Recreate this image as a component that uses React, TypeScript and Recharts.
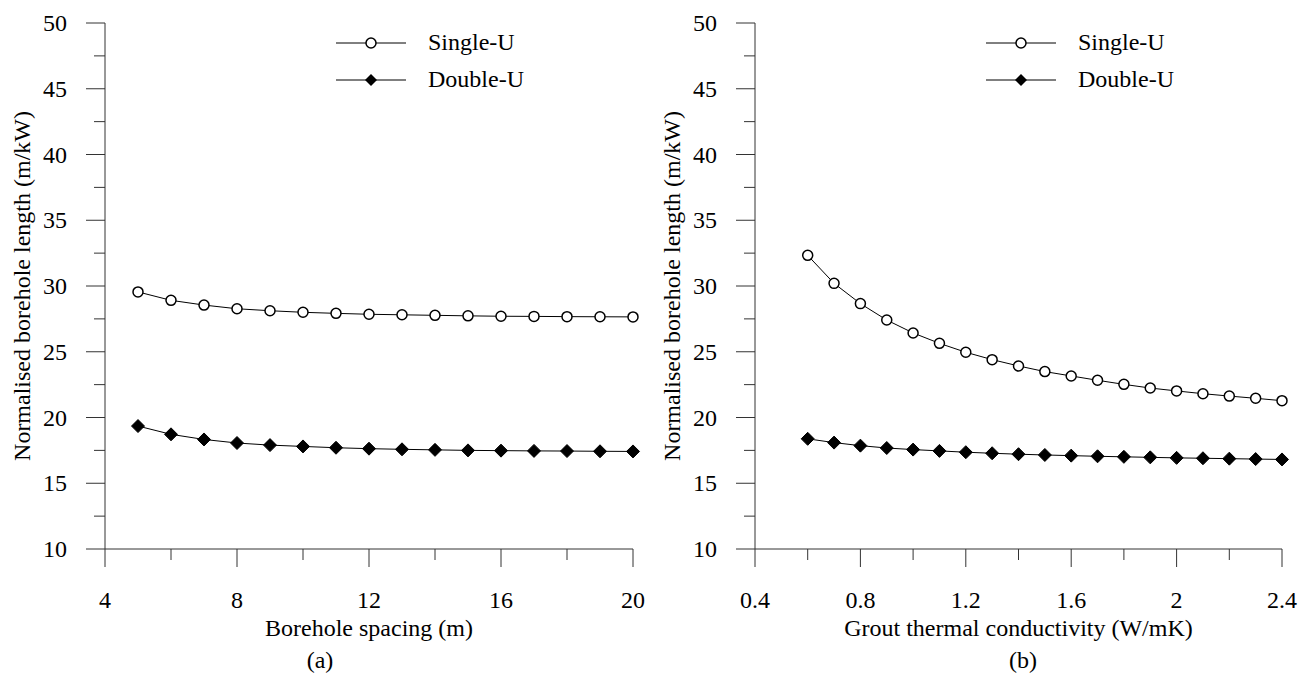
import { LineChart, Line, XAxis, YAxis, Legend } from "recharts";

const spacing = [5, 6, 7, 8, 9, 10, 11, 12, 13, 14, 15, 16, 17, 18, 19, 20];
const spacingSingle = [29.55, 28.91, 28.55, 28.27, 28.12, 28.0, 27.92, 27.85, 27.81, 27.77, 27.73, 27.7, 27.69, 27.67, 27.66, 27.65];
const spacingDouble = [19.35, 18.72, 18.33, 18.06, 17.9, 17.8, 17.7, 17.63, 17.58, 17.54, 17.5, 17.48, 17.46, 17.45, 17.43, 17.42];

const conductivity = [0.6, 0.7, 0.8, 0.9, 1.0, 1.1, 1.2, 1.3, 1.4, 1.5, 1.6, 1.7, 1.8, 1.9, 2.0, 2.1, 2.2, 2.3, 2.4];
const condSingle = [32.33, 30.2, 28.66, 27.41, 26.43, 25.64, 24.96, 24.4, 23.92, 23.49, 23.16, 22.83, 22.52, 22.24, 22.02, 21.81, 21.63, 21.46, 21.28];
const condDouble = [18.38, 18.09, 17.86, 17.68, 17.56, 17.46, 17.36, 17.28, 17.21, 17.15, 17.1, 17.05, 17.01, 16.97, 16.93, 16.9, 16.87, 16.84, 16.81];

const spacingTicks = [4, 6, 8, 10, 12, 14, 16, 18, 20];
const condTicks = [0.4, 0.6, 0.8, 1, 1.2, 1.4, 1.6, 1.8, 2, 2.2, 2.4];
const yTicks = [10, 12.5, 15, 17.5, 20, 22.5, 25, 27.5, 30, 32.5, 35, 37.5, 40, 42.5, 45, 47.5, 50];
const seriesOrder = ["single", "double"];

const FONT = '"Liberation Serif", "Times New Roman", serif';
const FS = 24;
const AXIS = "#333";

const isMultiple = (v: number, base: number, step: number) => {
  const r = (v - base) / step;
  return Math.abs(r - Math.round(r)) < 1e-6;
};

const YTick = (props: any) => {
  const { x, y, payload } = props;
  const v = payload.value;
  const major = isMultiple(v, 0, 5);
  return (
    <g>
      <line x1={x - (major ? 19 : 11)} x2={x} y1={y} y2={y} stroke={AXIS} strokeWidth={1} />
      {major && (
        <text x={x - 38} y={y + 8} textAnchor="end" style={{ fontFamily: FONT }} fontSize={FS} fill="#000">
          {v}
        </text>
      )}
    </g>
  );
};

const makeXTick = (base: number, step: number) => (props: any) => {
  const { x, y, payload } = props;
  const v = payload.value;
  const major = isMultiple(v, base, step);
  return (
    <g>
      <line x1={x} x2={x} y1={y} y2={y + (major ? 18 : 11)} stroke={AXIS} strokeWidth={1} />
      {major && (
        <text x={x} y={y + 59} textAnchor="middle" style={{ fontFamily: FONT }} fontSize={FS} fill="#000">
          {Number(v.toFixed(2))}
        </text>
      )}
    </g>
  );
};

const Diamond = (props: any) => {
  const { cx, cy, index } = props;
  if (cx == null || cy == null) return <g key={`d-${index}`} />;
  const s = 6.5;
  return (
    <polygon
      key={`d-${index}`}
      points={`${cx},${cy - s} ${cx + s},${cy} ${cx},${cy + s} ${cx - s},${cy}`}
      fill="#000"
      stroke="#000"
    />
  );
};

const renderLegend = (props: any) => {
  const items = [...(props.payload || [])].sort(
    (a: any, b: any) => seriesOrder.indexOf(a.dataKey) - seriesOrder.indexOf(b.dataKey)
  );
  return (
    <div style={{ fontFamily: FONT, fontSize: FS, color: "#000" }}>
      {items.map((entry: any) => (
        <div key={entry.value} style={{ display: "flex", alignItems: "center", height: 37 }}>
          <svg width={72} height={16} style={{ display: "block" }}>
            <line x1={0} x2={70} y1={8} y2={8} stroke="#000" strokeWidth={1} />
            {entry.dataKey === "single" ? (
              <circle cx={35} cy={8} r={5} fill="#fff" stroke="#000" strokeWidth={1.5} />
            ) : (
              <polygon points="35,2 41,8 35,14 29,8" fill="#000" />
            )}
          </svg>
          <span style={{ marginLeft: 20 }}>{entry.value}</span>
        </div>
      ))}
    </div>
  );
};

type PanelProps = {
  left: number;
  width: number;
  data: { x: number; single: number; double: number }[];
  domain: [number, number];
  ticks: number[];
  tickBase: number;
  tickStep: number;
  rightMargin: number;
  xLabel: string;
  tag: string;
  tagX: number;
};

const Panel = (p: PanelProps) => {
  const XTick = makeXTick(p.tickBase, p.tickStep);
  const plotLeft = 105;
  const plotRight = p.width - p.rightMargin;
  return (
    <div style={{ position: "absolute", left: p.left, top: 0 }}>
      <LineChart width={p.width} height={679} data={p.data} margin={{ top: 23, right: p.rightMargin, bottom: 0, left: 0 }}>
        <XAxis
          type="number"
          dataKey="x"
          domain={p.domain}
          ticks={p.ticks}
          interval={0}
          height={130}
          tickSize={0}
          tickMargin={0}
          tickLine={false}
          tick={<XTick />}
          axisLine={{ stroke: AXIS, strokeWidth: 1 }}
        />
        <YAxis
          type="number"
          domain={[10, 50]}
          ticks={yTicks}
          interval={0}
          width={plotLeft}
          tickSize={0}
          tickMargin={0}
          tickLine={false}
          tick={<YTick />}
          axisLine={{ stroke: AXIS, strokeWidth: 1 }}
        />
        <Legend
          layout="horizontal"
          verticalAlign="middle"
          align="center"
          content={renderLegend}
          wrapperStyle={{ position: "absolute", top: 24, left: 336, width: 240 }}
        />
        <Line
          dataKey="single"
          name="Single-U"
          stroke="#000"
          strokeWidth={1}
          isAnimationActive={false}
          dot={{ r: 5, fill: "#fff", stroke: "#000", strokeWidth: 1.5 }}
          activeDot={false}
        />
        <Line
          dataKey="double"
          name="Double-U"
          stroke="#000"
          strokeWidth={1}
          isAnimationActive={false}
          dot={Diamond}
          activeDot={false}
        />
        <text x={30} y={286} transform="rotate(-90, 30, 286)" textAnchor="middle" style={{ fontFamily: FONT }} fontSize={FS} fill="#000">
          Normalised borehole length (m/kW)
        </text>
        <text x={(plotLeft + plotRight) / 2} y={636} textAnchor="middle" style={{ fontFamily: FONT }} fontSize={FS} fill="#000">
          {p.xLabel}
        </text>
        <text x={p.tagX} y={668} textAnchor="middle" style={{ fontFamily: FONT }} fontSize={FS} fill="#000">
          {p.tag}
        </text>
      </LineChart>
    </div>
  );
};

const spacingData = spacing.map((x, i) => ({ x, single: spacingSingle[i], double: spacingDouble[i] }));
const condData = conductivity.map((x, i) => ({ x, single: condSingle[i], double: condDouble[i] }));

export default function App() {
  return (
    <div style={{ position: "absolute", left: 0, top: 0, width: 1301, height: 679, background: "#fff", fontFamily: FONT }}>
      <Panel
        left={0}
        width={650}
        data={spacingData}
        domain={[4, 20]}
        ticks={spacingTicks}
        tickBase={4}
        tickStep={4}
        rightMargin={17}
        xLabel="Borehole spacing (m)"
        tag="(a)"
        tagX={320}
      />
      <Panel
        left={650}
        width={651}
        data={condData}
        domain={[0.4, 2.4]}
        ticks={condTicks}
        tickBase={0.4}
        tickStep={0.4}
        rightMargin={19}
        xLabel="Grout thermal conductivity (W/mK)"
        tag="(b)"
        tagX={373}
      />
    </div>
  );
}
